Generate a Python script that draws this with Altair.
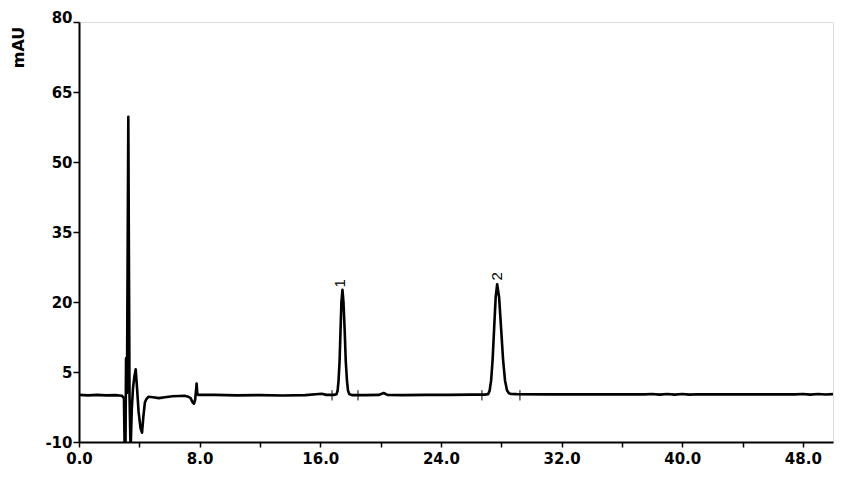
import altair as alt
import pandas as pd

# Chromatogram trace (minutes, mAU)
time = [0.0, 0.6, 1.2, 1.8, 2.4, 2.85, 2.98, 3.03, 3.08, 3.12, 3.18, 3.27, 3.35, 3.42,
        3.50, 3.58, 3.67, 3.76, 3.84, 3.95, 4.08, 4.18, 4.27, 4.37, 4.47, 4.60, 4.90,
        5.30, 5.70, 6.20, 7.00, 7.25, 7.40, 7.52, 7.62, 7.70, 7.76, 7.80, 7.84, 7.90,
        9.0, 10.5, 12.0, 13.5, 15.0, 15.9, 16.1, 16.4, 16.9,
        17.08, 17.15, 17.21, 17.28, 17.34, 17.40, 17.47, 17.54, 17.62, 17.69, 17.77,
        17.84, 17.92, 18.10, 19.0, 19.9, 20.2, 20.45, 21.5, 23.0, 24.5, 26.0, 26.9,
        27.13, 27.23, 27.33, 27.43, 27.53, 27.63, 27.73, 27.86, 27.99, 28.12, 28.25,
        28.38, 28.51, 28.65, 29.0, 31.0, 33.0, 35.0, 37.5, 38.0, 38.5, 39.0, 39.5,
        40.0, 40.5, 41.0, 43.0, 45.0, 47.5, 48.0, 48.5, 49.0, 49.5, 50.0]
signal = [0.1, 0.0, 0.1, 0.0, 0.05, -0.1, -0.6, -12, -12, 8.0, 0.5, 59.7, 0.0, -12,
          -3.0, 1.5, 4.0, 5.6, 2.0, -3.5, -7.0, -8.0, -4.5, -1.5, -0.8, -0.3, -0.4,
          -0.6, -0.4, -0.2, -0.1, -0.3, -0.6, -1.4, -1.8, -1.0, 1.0, 2.5, 0.5, 0.1,
          0.1, 0.0, 0.05, -0.05, 0.05, 0.3, 0.35, 0.1, 0.1,
          0.25, 1.0, 3.1, 7.3, 13.7, 19.9, 22.6, 19.9, 13.7, 7.3, 3.1,
          1.0, 0.3, 0.05, 0.05, 0.1, 0.5, 0.1, 0.05, 0.1, 0.1, 0.15, 0.15,
          0.26, 1.0, 3.2, 7.7, 14.4, 21.0, 23.8, 21.0, 14.4, 7.7, 3.2,
          1.1, 0.45, 0.3, 0.25, 0.2, 0.2, 0.2, 0.2, 0.28, 0.15, 0.28, 0.15,
          0.28, 0.15, 0.22, 0.2, 0.2, 0.2, 0.28, 0.15, 0.28, 0.18, 0.25]

# Peak labels
peak_names = ["1", "2"]
peak_label_t = [17.3, 27.74]
peak_label_v = [24.0, 25.5]

# Integration start/end markers
marker_t = [16.78, 18.5, 26.72, 29.24]
marker_lo = [-1.1, -1.1, -1.1, -1.1]
marker_hi = [1.1, 1.1, 1.1, 1.1]

x_ticks = [0, 4, 8, 12, 16, 20, 24, 28, 32, 36, 40, 44, 48]
y_ticks = [-10, 5, 20, 35, 50, 65, 80]

trace = pd.DataFrame({"t": time, "v": signal})
labels = pd.DataFrame({"t": peak_label_t, "v": peak_label_v, "name": peak_names})
markers = pd.DataFrame({"t": marker_t, "lo": marker_lo, "hi": marker_hi})

FONT = "DejaVu Sans"

x_scale = alt.Scale(domain=[0, 50], nice=False, zero=False)
y_scale = alt.Scale(domain=[-10, 80], nice=False, zero=False)

x_axis = alt.Axis(
    values=x_ticks,
    labelExpr="datum.value % 8 === 0 ? format(datum.value, '.1f') : ''",
    title=None, grid=False, labelFlush=False,
    labelFont=FONT, labelFontWeight="bold", labelFontSize=15, labelColor="black",
    labelPadding=4, tickSize=5, tickWidth=1.5, tickColor="black",
    domainColor="black", domainWidth=2,
)
y_axis = alt.Axis(
    values=y_ticks, labelExpr="'' + datum.value", grid=False,
    title="mAU", titleFont=FONT, titleFontWeight="bold", titleFontSize=16,
    titleColor="black", titleX=-61, titleY=25, titleAngle=270,
    titleAlign="center", titleBaseline="middle",
    labelFont=FONT, labelFontWeight="bold", labelFontSize=15, labelColor="black",
    labelPadding=1, labelFlush=False,
    labelOffset={"condition": {"test": "datum.value === 80", "value": -5}, "value": 0},
    tickSize=6, tickWidth=1.5, tickColor="black",
    domainColor="black", domainWidth=2,
)

line = alt.Chart(trace).mark_line(color="black", strokeWidth=2.6, clip=True,
                                  strokeJoin="round").encode(
    x=alt.X("t:Q", scale=x_scale, axis=x_axis),
    y=alt.Y("v:Q", scale=y_scale, axis=y_axis),
    order="t:Q",
)

rules = alt.Chart(markers).mark_rule(color="black", strokeWidth=1).encode(
    x=alt.X("t:Q", scale=x_scale),
    y=alt.Y("lo:Q", scale=y_scale),
    y2="hi:Q",
)

text = alt.Chart(labels).mark_text(angle=270, align="center", baseline="middle",
                                   font="Liberation Sans", fontSize=15,
                                   color="black").encode(
    x=alt.X("t:Q", scale=x_scale),
    y=alt.Y("v:Q", scale=y_scale),
    text="name:N",
)

chart = alt.layer(line, rules, text).properties(
    width=754, height=420,
    autosize=alt.AutoSizeParams(type="none"),
    padding={"left": 71, "top": 14, "right": 10, "bottom": 25},
).configure_view(stroke=None).configure(background="white")

chart.save("out.html", embed_options={"renderer": "svg", "actions": False})
